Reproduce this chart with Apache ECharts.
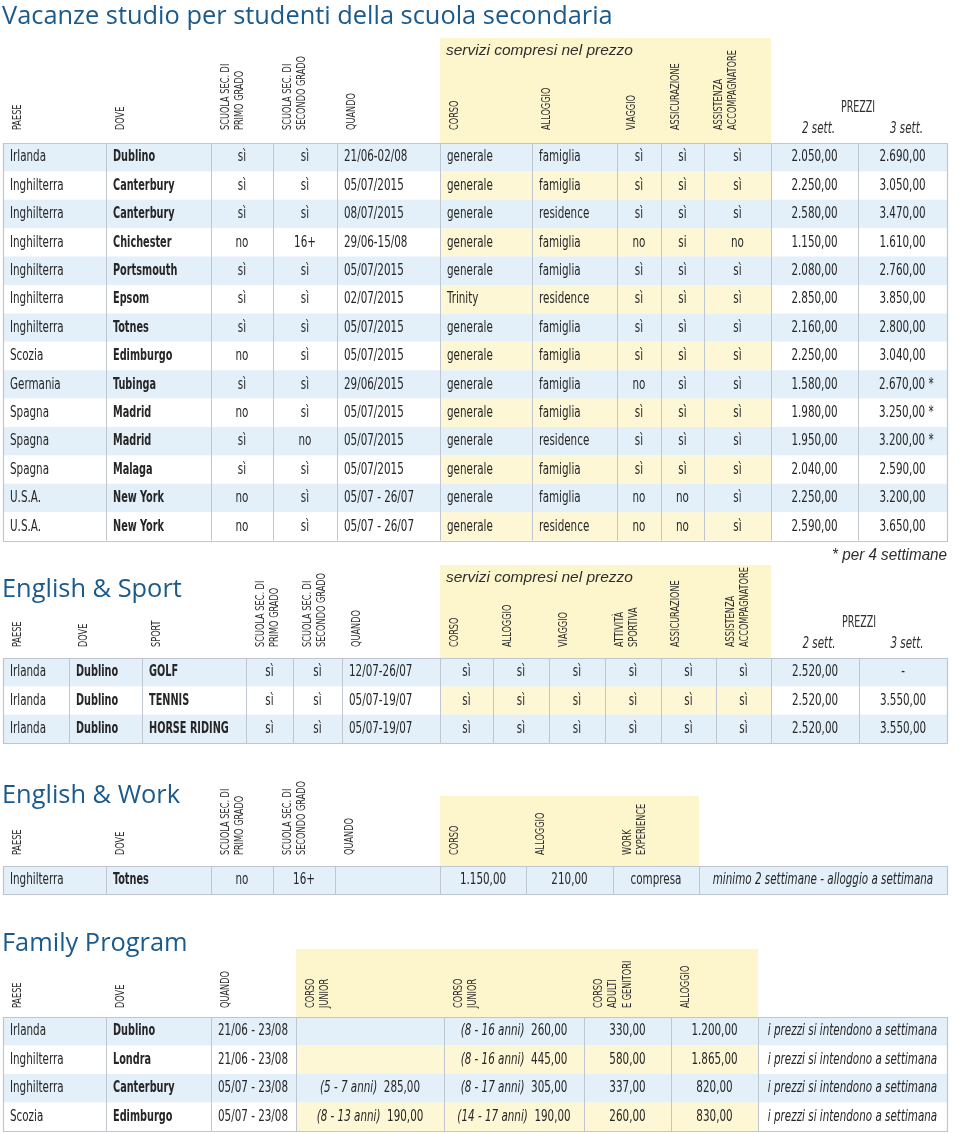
<!DOCTYPE html>
<html><head><meta charset="utf-8">
<script src="https://cdn.jsdelivr.net/npm/echarts@6/dist/echarts.min.js"></script>
<style>html,body{margin:0;padding:0;background:#fff}#c{width:960px;height:1134px}</style>
</head><body><div id="c"></div>
<script>
// ================= DATA =================
// Vacanze studio per studenti della scuola secondaria
const studyHeaders = ['PAESE','DOVE','SCUOLA SEC. DI\nPRIMO GRADO','SCUOLA SEC. DI\nSECONDO GRADO','QUANDO','CORSO','ALLOGGIO','VIAGGIO','ASSICURAZIONE','ASSISTENZA\nACCOMPAGNATORE','2 sett.','3 sett.'];
const studyCountry = ['Irlanda','Inghilterra','Inghilterra','Inghilterra','Inghilterra','Inghilterra','Inghilterra','Scozia','Germania','Spagna','Spagna','Spagna','U.S.A.','U.S.A.'];
const studyCity = ['Dublino','Canterbury','Canterbury','Chichester','Portsmouth','Epsom','Totnes','Edimburgo','Tubinga','Madrid','Madrid','Malaga','New York','New York'];
const studyPrimo = ['sì','sì','sì','no','sì','sì','sì','no','sì','no','sì','sì','no','no'];
const studySecondo = ['sì','sì','sì','16+','sì','sì','sì','sì','sì','sì','no','sì','sì','sì'];
const studyWhen = ['21/06-02/08','05/07/2015','08/07/2015','29/06-15/08','05/07/2015','02/07/2015','05/07/2015','05/07/2015','29/06/2015','05/07/2015','05/07/2015','05/07/2015','05/07 - 26/07','05/07 - 26/07'];
const studyCourse = ['generale','generale','generale','generale','generale','Trinity','generale','generale','generale','generale','generale','generale','generale','generale'];
const studyLodging = ['famiglia','famiglia','residence','famiglia','famiglia','residence','famiglia','famiglia','famiglia','famiglia','residence','famiglia','famiglia','residence'];
const studyTravel = ['sì','sì','sì','no','sì','sì','sì','sì','no','sì','sì','sì','no','no'];
const studyInsurance = ['sì','sì','sì','si','sì','sì','sì','sì','sì','sì','sì','sì','no','no'];
const studyEscort = ['sì','sì','sì','no','sì','sì','sì','sì','sì','sì','sì','sì','sì','sì'];
const studyPrice2 = [2050,2250,2580,1150,2080,2850,2160,2250,1580,1980,1950,2040,2250,2590];
const studyPrice3 = [2690,3050,3470,1610,2760,3850,2800,3040,2670,3250,3200,2590,3200,3650];
const studyMark = ['','','','','','','','','*','*','*','','',''];

// English & Sport
const sportHeaders = ['PAESE','DOVE','SPORT','SCUOLA SEC. DI\nPRIMO GRADO','SCUOLA SEC. DI\nSECONDO GRADO','QUANDO','CORSO','ALLOGGIO','VIAGGIO','ATTIVITÀ\nSPORTIVA','ASSICURAZIONE','ASSISTENZA\nACCOMPAGNATORE','2 sett.','3 sett.'];
const sportCountry = ['Irlanda','Irlanda','Irlanda'];
const sportCity = ['Dublino','Dublino','Dublino'];
const sportName = ['GOLF','TENNIS','HORSE RIDING'];
const sportPrimo = ['sì','sì','sì'];
const sportSecondo = ['sì','sì','sì'];
const sportWhen = ['12/07-26/07','05/07-19/07','05/07-19/07'];
const sportCourse = ['sì','sì','sì'];
const sportLodging = ['sì','sì','sì'];
const sportTravel = ['sì','sì','sì'];
const sportActivity = ['sì','sì','sì'];
const sportInsurance = ['sì','sì','sì'];
const sportEscort = ['sì','sì','sì'];
const sportPrice2 = [2520,2520,2520];
const sportPrice3 = [null,3550,3550];

// English & Work
const workHeaders = ['PAESE','DOVE','SCUOLA SEC. DI\nPRIMO GRADO','SCUOLA SEC. DI\nSECONDO GRADO','QUANDO','CORSO','ALLOGGIO','WORK\nEXPERIENCE',''];
const workCountry = ['Inghilterra'];
const workCity = ['Totnes'];
const workPrimo = ['no'];
const workSecondo = ['16+'];
const workWhen = [''];
const workCourse = [1150];
const workLodging = [210];
const workExperience = ['compresa'];
const workNote = ['minimo 2 settimane - alloggio a settimana'];

// Family Program
const familyHeaders = ['PAESE','DOVE','QUANDO','CORSO\nJUNIOR','CORSO\nJUNIOR','CORSO\nADULTI\nE GENITORI','ALLOGGIO',''];
const familyCountry = ['Irlanda','Inghilterra','Inghilterra','Scozia'];
const familyCity = ['Dublino','Londra','Canterbury','Edimburgo'];
const familyWhen = ['21/06 - 23/08','21/06 - 23/08','05/07 - 23/08','05/07 - 23/08'];
const familyJuniorAgeA = ['','','5 - 7 anni','8 - 13 anni'];
const familyJuniorPriceA = [null,null,285,190];
const familyJuniorAgeB = ['8 - 16 anni','8 - 16 anni','8 - 17 anni','14 - 17 anni'];
const familyJuniorPriceB = [260,445,305,190];
const familyAdult = [330,580,337,260];
const familyLodging = [1200,1865,820,830];
const familyNote = ['i prezzi si intendono a settimana','i prezzi si intendono a settimana','i prezzi si intendono a settimana','i prezzi si intendono a settimana'];

// ================= STYLE / LAYOUT =================
const FN = '"Liberation Sans Narrow","Arial Narrow","DejaVu Sans Condensed",sans-serif';
const FR = '"Liberation Sans",Arial,sans-serif';
const FT = '"Open Sans","Noto Sans",sans-serif';
const C = {title:'#1a5a8c', text:'#262626', head:'#2e2e2e', blue:'#e3f0fa', yellow:'#fdf7d6', headYellow:'#fdf5cc', line:'#bfc6cf'};
const FS = 16;        // cell font size
const SX = 0.72;      // horizontal condensing of regular cell text
const SXB = 0.675;    // horizontal condensing of bold cell text

function fmt(n) {
  if (n === null || n === undefined) return '';
  const s = String(Math.round(n));
  return s.replace(/\B(?=(\d{3})+(?!\d))/g, '.') + ',00';
}
function txt(x, y, style, sx, rot) {
  const el = {type:'text', x:x, y:y, scaleX:sx || 1, style:Object.assign({x:0, y:0, fill:C.text}, style)};
  if (rot) el.rotation = rot;
  return el;
}

const t1rows = studyCountry.map((_, i) => [studyCountry[i], studyCity[i], studyPrimo[i], studySecondo[i], studyWhen[i], studyCourse[i], studyLodging[i], studyTravel[i], studyInsurance[i], studyEscort[i], fmt(studyPrice2[i]), fmt(studyPrice3[i]) + (studyMark[i] ? ' ' + studyMark[i] : '')]);
const t2rows = sportCountry.map((_, i) => [sportCountry[i], sportCity[i], sportName[i], sportPrimo[i], sportSecondo[i], sportWhen[i], sportCourse[i], sportLodging[i], sportTravel[i], sportActivity[i], sportInsurance[i], sportEscort[i], fmt(sportPrice2[i]), sportPrice3[i] === null ? '-' : fmt(sportPrice3[i])]);
const t3rows = workCountry.map((_, i) => [workCountry[i], workCity[i], workPrimo[i], workSecondo[i], workWhen[i], fmt(workCourse[i]), fmt(workLodging[i]), workExperience[i], workNote[i]]);
const t4rows = familyCountry.map((_, i) => [familyCountry[i], familyCity[i], familyWhen[i],
  familyJuniorAgeA[i] ? '{i|(' + familyJuniorAgeA[i] + ')}  ' + fmt(familyJuniorPriceA[i]) : '',
  familyJuniorAgeB[i] ? '{i|(' + familyJuniorAgeB[i] + ')}  ' + fmt(familyJuniorPriceB[i]) : '',
  fmt(familyAdult[i]), fmt(familyLodging[i]), familyNote[i]]);

const tables = [
  {title:'Vacanze studio per studenti della scuola secondaria', titleTop:4, top:38, headerH:105, rowH:28.4,
   edges:[3,106,211,273,337,440,532,617,661,704,771,858,947], band:[440,771], yellowCols:[5,6,7,8,9],
   headers:studyHeaders, priceCols:[10,11], servizi:true, labelDy:13,
   align:['l','b','c','c','l','l','l','c','c','c','p','p'], rows:t1rows},
  {title:'English & Sport', titleTop:577, top:565, headerH:93, rowH:28.4,
   edges:[3,69,142,246,293,342,440,493,549,605,661,716,771,859,947], band:[440,771], yellowCols:[6,7,8,9,10,11],
   headers:sportHeaders, priceCols:[12,13], servizi:true, labelDy:11, note:'* per 4 settimane',
   align:['l','b','b','c','c','l','c','c','c','c','c','c','p','p'], rows:t2rows},
  {title:'English & Work', titleTop:783, top:796, headerH:70, rowH:28,
   edges:[3,106,211,273,335,440,526,613,699,947], band:[440,699], yellowCols:[5,6,7],
   headers:workHeaders, priceCols:[], servizi:false, labelDy:11,
   align:['l','b','c','c','l','c','c','c','i'], rows:t3rows},
  {title:'Family Program', titleTop:931, top:949, headerH:68, rowH:28.5,
   edges:[3,106,211,296,444,584,671,758,947], band:[296,758], yellowCols:[3,4,5,6],
   headers:familyHeaders, priceCols:[], servizi:false, labelDy:9,
   align:['l','b','l','j','j','c','c','i'], rows:t4rows}
];

// ================= BUILD =================
const option = {animation:false, backgroundColor:'#fff', title:[], grid:[], xAxis:[], yAxis:[], series:[]};

tables.forEach((t, gi) => {
  const n = t.rows.length;
  const hdr = t.headerH / t.rowH;
  option.title.push({text:t.title, left:2, top:t.titleTop, padding:0,
    textStyle:{color:C.title, fontFamily:FT, fontSize:25.4, fontWeight:'normal'}});
  option.grid.push({left:0, top:t.top, width:960, height:t.headerH + n * t.rowH});
  option.xAxis.push({type:'value', gridIndex:gi, min:0, max:960, show:false});
  option.yAxis.push({type:'value', gridIndex:gi, inverse:true, min:-hdr, max:n, show:false});

  // header items
  const hItems = [{kind:'band', x0:t.band[0], x1:t.band[1]}];
  t.headers.forEach((h, c) => {
    if (!h) return;
    if (t.priceCols.includes(c)) hItems.push({kind:'sett', x0:t.edges[c], x1:t.edges[c + 1], text:h});
    else hItems.push({kind:'label', x0:t.edges[c], text:h});
  });
  if (t.priceCols.length) hItems.push({kind:'prezzi', x0:t.edges[t.priceCols[1]], text:'PREZZI'});
  if (t.servizi) hItems.push({kind:'servizi', x0:t.band[0], text:'servizi compresi nel prezzo'});
  if (t.note) hItems.push({kind:'note', x0:t.edges[t.edges.length - 1], text:t.note});

  option.series.push({
    type:'custom', xAxisIndex:gi, yAxisIndex:gi, z:1, silent:true,
    data:hItems.map(it => [it.x0, 0]),
    renderItem:(params, api) => {
      const it = hItems[params.dataIndex];
      if (it.kind === 'band') {
        const a = api.coord([it.x0, -hdr]), b = api.coord([it.x1, 0]);
        return {type:'rect', shape:{x:a[0], y:a[1], width:b[0] - a[0], height:b[1] - a[1]}, style:{fill:C.headYellow}};
      }
      if (it.kind === 'label') {
        const p = api.coord([it.x0, 0]);
        return txt(p[0] + 7, p[1] - t.labelDy, {text:it.text, textAlign:'left', textVerticalAlign:'top', fontFamily:FN, fontSize:13, lineHeight:14.5, fill:C.head}, 0.7, Math.PI / 2);
      }
      if (it.kind === 'sett') {
        const a = api.coord([it.x0, 0]), b = api.coord([it.x1, 0]);
        return txt((a[0] + b[0]) / 2 + 4, a[1] - 14, {text:it.text, textAlign:'center', textVerticalAlign:'middle', fontFamily:FN, fontSize:16, fontStyle:'italic', fill:C.head}, 0.72);
      }
      if (it.kind === 'prezzi') {
        const p = api.coord([it.x0, 0]);
        return txt(p[0], p[1] - 35, {text:it.text, textAlign:'center', textVerticalAlign:'middle', fontFamily:FN, fontSize:16, fill:C.head}, 0.66);
      }
      if (it.kind === 'servizi') {
        const p = api.coord([it.x0, -hdr]);
        return txt(p[0] + 6, p[1] + 13, {text:it.text, textAlign:'left', textVerticalAlign:'middle', fontFamily:FR, fontSize:15.5, fontStyle:'italic', fill:C.head});
      }
      if (it.kind === 'note') {
        const p = api.coord([it.x0, -hdr]);
        return txt(p[0], p[1] - 9, {text:it.text, textAlign:'right', textVerticalAlign:'middle', fontFamily:FR, fontSize:16, fontStyle:'italic', fill:C.head}, 0.95);
      }
      return null;
    }
  });

  // cells
  const cells = [];
  t.rows.forEach((row, r) => row.forEach((text, c) => cells.push({r, c, text})));
  option.series.push({
    type:'custom', xAxisIndex:gi, yAxisIndex:gi, z:2, silent:true,
    data:cells.map(it => [t.edges[it.c], it.r, t.edges[it.c + 1]]),
    renderItem:(params, api) => {
      const it = cells[params.dataIndex];
      const a = api.coord([api.value(0), api.value(1)]);
      const b = api.coord([api.value(2), api.value(1) + 1]);
      const fill = it.r % 2 === 0 ? C.blue : (t.yellowCols.includes(it.c) ? C.yellow : '#ffffff');
      const children = [{type:'rect', shape:{x:a[0], y:a[1], width:b[0] - a[0], height:b[1] - a[1]}, style:{fill}}];
      const al = t.align[it.c];
      const cy = (a[1] + b[1]) / 2;
      const cx = (a[0] + b[0]) / 2;
      const st = {text:it.text, textVerticalAlign:'middle', fontFamily:FN, fontSize:FS, fill:C.text};
      let x, sx = SX;
      if (al === 'l' || al === 'b') { x = a[0] + 7; st.textAlign = 'left'; if (al === 'b') { st.fontWeight = 'bold'; sx = SXB; } }
      else if (al === 'p' && it.text.indexOf('*') >= 0) { x = a[0] + 21; st.textAlign = 'left'; }
      else { x = cx; st.textAlign = 'center'; }
      if (al === 'i') st.fontStyle = 'italic';
      if (al === 'j') st.rich = {i:{fontStyle:'italic', fontFamily:FN, fontSize:FS, fill:C.text}};
      if (it.text) children.push(txt(x, cy, st, sx));
      return {type:'group', children};
    }
  });

  // grid lines
  const lines = [];
  t.edges.forEach((e, k) => { if (k > 0 && k < t.edges.length - 1) lines.push({kind:'v', x:e}); });
  lines.push({kind:'border'});
  option.series.push({
    type:'custom', xAxisIndex:gi, yAxisIndex:gi, z:3, silent:true,
    data:lines.map(l => [l.x || t.edges[0], 0]),
    renderItem:(params, api) => {
      const l = lines[params.dataIndex];
      if (l.kind === 'v') {
        const a = api.coord([l.x, 0]), b = api.coord([l.x, n]);
        const x = Math.round(a[0]) + 0.5;
        return {type:'line', shape:{x1:x, y1:a[1], x2:x, y2:b[1]}, style:{stroke:C.line, lineWidth:1}};
      }
      const a = api.coord([t.edges[0], 0]), b = api.coord([t.edges[t.edges.length - 1], n]);
      return {type:'rect', shape:{x:Math.round(a[0]) + 0.5, y:Math.round(a[1]) + 0.5, width:Math.round(b[0] - a[0]), height:Math.round(b[1] - a[1])}, style:{fill:null, stroke:C.line, lineWidth:1.2}};
    }
  });
});

const chart = echarts.init(document.getElementById('c'), null, {renderer:'canvas'});
chart.setOption(option);
</script>
</body></html>
